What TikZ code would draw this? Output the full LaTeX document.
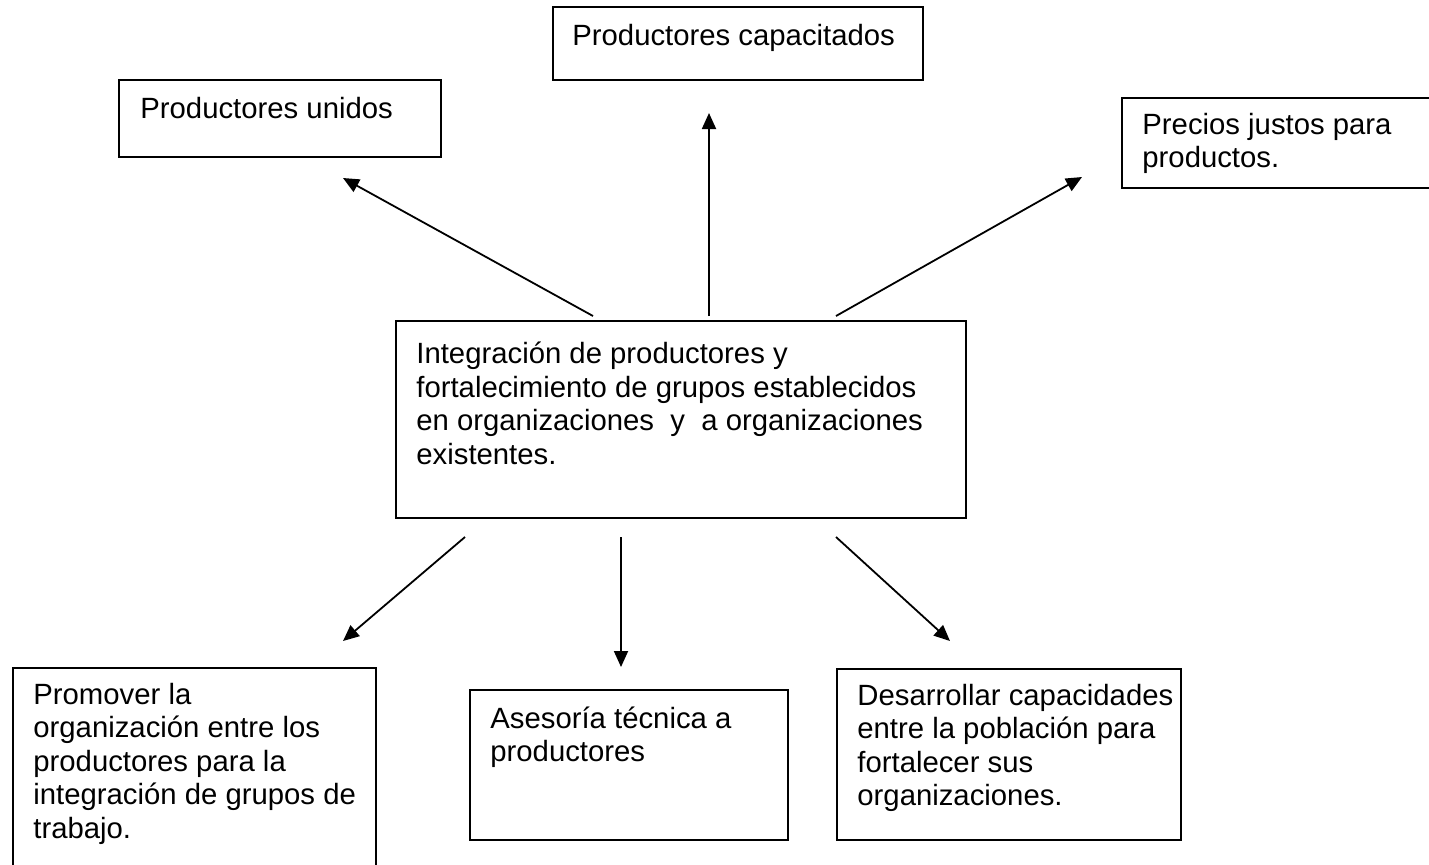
\documentclass[tikz,border=0pt]{standalone}
\usepackage{fontspec}
\setmainfont{Liberation Sans}
\usetikzlibrary{arrows.meta}
\begin{document}
\begin{tikzpicture}[x=0.5pt,y=-0.5pt,
  box/.style={draw=black, line width=1pt, inner sep=0pt, anchor=north west},
  txt/.style={anchor=north west, inner sep=0pt, align=left,
    font=\fontsize{14.65pt}{16.75pt}\selectfont},
  arr/.style={line width=0.9pt, -{Triangle[length=8pt,width=7pt]}}]
\clip (0,0) rectangle (1429,864);
% boxes
\node[box, minimum width=161pt, minimum height=38.5pt] (b1) at (118,79) {};
\node[box, minimum width=185pt, minimum height=36.5pt] (b2) at (552,6) {};
\node[box, minimum width=170pt, minimum height=45pt] (b3) at (1121,97) {};
\node[box, minimum width=285pt, minimum height=98.5pt] (c) at (395,320) {};
\node[box, minimum width=181.5pt, minimum height=120pt] (d1) at (12,667) {};
\node[box, minimum width=159pt, minimum height=75pt] (d2) at (469,689) {};
\node[box, minimum width=172pt, minimum height=85.5pt] (d3) at (836,668) {};
% texts
\node[txt] (t1) at (140,94.5) {\strut Productores unidos};
\node[txt] (t2) at (572,21.5) {\strut Productores capacitados};
\node[txt] (t3) at (1142,110.5) {\strut Precios justos para\\productos.};
\node[txt] (tc) at (416,340) {\strut Integración de productores y\\fortalecimiento de grupos establecidos\\en organizaciones \ y \ a organizaciones\\existentes.};
\node[txt] (td1) at (33,680.5) {\strut Promover la\\organización entre los\\productores para la\\integración de grupos de\\trabajo.};
\node[txt] (td2) at (490,704.5) {\strut Asesoría técnica a\\productores};
\node[txt] (td3) at (857,681.5) {\strut Desarrollar capacidades\\entre la población para\\fortalecer sus\\organizaciones.};
% arrow ends
\coordinate (a1s) at (593,316); \coordinate (a1e) at (343,178);
\coordinate (a2s) at (709,316); \coordinate (a2e) at (709,113);
\coordinate (a3s) at (836,316); \coordinate (a3e) at (1082,177);
\coordinate (a4s) at (465,537); \coordinate (a4e) at (343,641);
\coordinate (a5s) at (621,537); \coordinate (a5e) at (621,667);
\coordinate (a6s) at (836,537); \coordinate (a6e) at (950,641);
\draw[arr] (a1s) -- (a1e);
\draw[arr] (a2s) -- (a2e);
\draw[arr] (a3s) -- (a3e);
\draw[arr] (a4s) -- (a4e);
\draw[arr] (a5s) -- (a5e);
\draw[arr] (a6s) -- (a6e);
\end{tikzpicture}
\end{document}
